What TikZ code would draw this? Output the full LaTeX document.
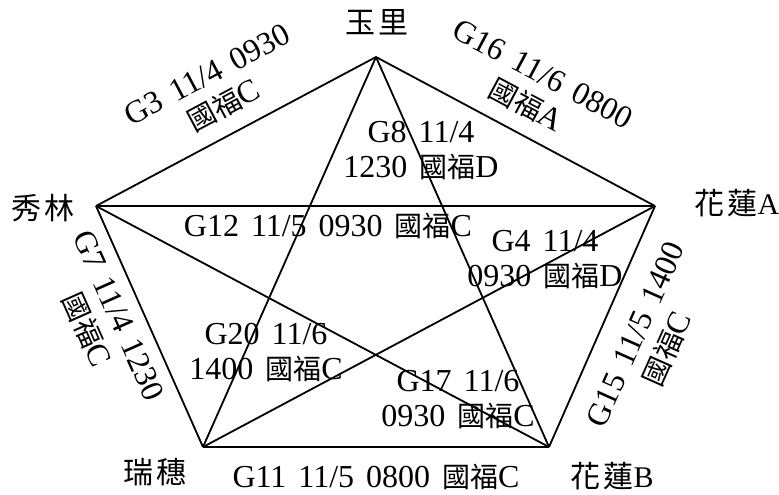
\documentclass[tikz,border=0pt]{standalone}
\usepackage{fontspec}
\setmainfont{Liberation Serif}
\newfontfamily\cjk{Noto Sans CJK TC}
\newcommand{\zh}[1]{{\cjk\fontsize{28}{35}\selectfont #1}}
\newcommand{\zv}[1]{{\cjk #1}}
\newcommand{\widesp}{\spaceskip=12pt\relax}
\begin{document}
\begin{tikzpicture}[x=1pt,y=-1pt,
  edge/.style={line width=1.8pt, line join=miter},
  lbl/.style={font=\fontsize{32}{35}\selectfont, inner sep=0pt, align=center, execute at begin node=\widesp},
  vlbl/.style={font=\fontsize{30}{35}\selectfont, inner sep=0pt}]
\useasboundingbox (0,0) rectangle (779,495);
% vertices
\coordinate (Y) at (376,57);
\coordinate (X) at (96,206);
\coordinate (A) at (655,206);
\coordinate (R) at (203,447);
\coordinate (B) at (549,447);
% edges
\draw[edge] (Y) -- (X);
\draw[edge] (Y) -- (A);
\draw[edge] (Y) -- (R);
\draw[edge] (Y) -- (B);
\draw[edge] (X) -- (A);
\draw[edge] (X) -- (R);
\draw[edge] (X) -- (B);
\draw[edge] (A) -- (R);
\draw[edge] (A) -- (B);
\draw[edge] (R) -- (B);
% vertex labels
\node[vlbl] (tY) at (377,22) {\zv{玉\hspace{4pt}里}};
\node[vlbl] (tX) at (43,208) {\zv{秀\hspace{4pt}林}};
\node[vlbl] (tA) at (737,203) {\zv{花\hspace{3pt}蓮}A};
\node[vlbl] (tR) at (155,472) {\zv{瑞\hspace{3pt}穗}};
\node[vlbl] (tB) at (612,476) {\zv{花\hspace{3pt}蓮}B};
% edge labels
\node[lbl, rotate=28] (g3) at (216,91) {G3 11/4 0930\\\zh{國福}C};
\node[lbl, rotate=-28] (g16) at (534,90) {G16 11/6 0800\\\zh{國福}A};
\node[lbl] (g8) at (421,151) {G8 11/4\\1230 \zh{國福}D};
\node[lbl] (g12) at (328,226) {G12 11/5 0930 \zh{國福}C};
\node[lbl] (g4) at (545,260) {G4 11/4\\0930 \zh{國福}D};
\node[lbl, rotate=-66] (g7) at (102,323) {G7 11/4 1230\\\zh{國福}C};
\node[lbl] (g20) at (266,353) {G20 11/6\\1400 \zh{國福}C};
\node[lbl] (g17) at (458,400) {G17 11/6\\0930 \zh{國福}C};
\node[lbl] (g11) at (376,477) {G11 11/5 0800 \zh{國福}C};
\node[lbl, rotate=66] (g15) at (652,342) {G15 11/5 1400\\\zh{國福}C};
\end{tikzpicture}
\end{document}
